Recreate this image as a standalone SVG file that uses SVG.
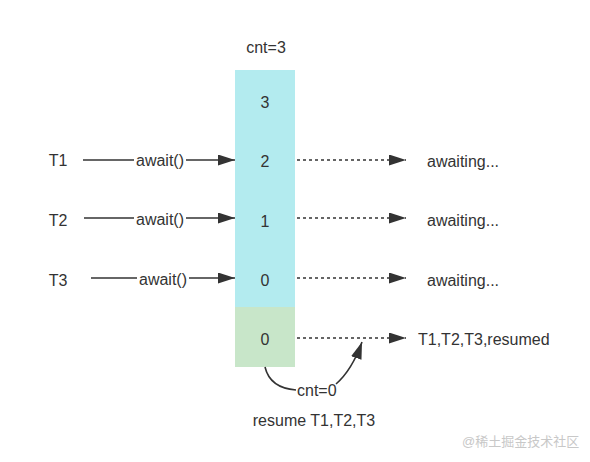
<svg xmlns="http://www.w3.org/2000/svg" width="590" height="462" viewBox="0 0 590 462">
<style>
text{font-family:"Liberation Sans",Arial,sans-serif;font-size:16px;fill:#333;dominant-baseline:central}
.c{text-anchor:middle}
.solid{stroke:#333;stroke-width:1.6;fill:none}
.dot{stroke:#333;stroke-width:1.6;fill:none;stroke-dasharray:3 3}
</style>
<defs>
<marker id="ah" markerWidth="17" markerHeight="11" refX="17" refY="5.5" orient="auto" markerUnits="userSpaceOnUse">
<path d="M0,0 L17,5.5 L0,11 Z" fill="#333"/>
</marker>
</defs>
<rect width="590" height="462" fill="#fff"/>
<text class="c" x="266" y="47">cnt=3</text>
<g id="column">
<rect x="235" y="70" width="60" height="237" fill="#b3ebef"/>
<rect x="235" y="307" width="60" height="60" fill="#c8e6c9"/>
<text class="c" x="265" y="102">3</text>
<text class="c" x="265" y="161">2</text>
<text class="c" x="265" y="221">1</text>
<text class="c" x="265" y="280">0</text>
<text class="c" x="265" y="339">0</text>
</g>
<g id="threads">
<text class="c" x="58" y="160">T1</text>
<text class="c" x="58" y="220">T2</text>
<text class="c" x="58" y="280">T3</text>
</g>
<g id="connectors">
<path class="solid" d="M83,160 H235" marker-end="url(#ah)"/>
<path class="solid" d="M84,218 H235" marker-end="url(#ah)"/>
<path class="solid" d="M91,278 H235" marker-end="url(#ah)"/>
<path class="dot" d="M297,160 H406" marker-end="url(#ah)"/>
<path class="dot" d="M297,218 H406" marker-end="url(#ah)"/>
<path class="dot" d="M297,278 H406" marker-end="url(#ah)"/>
<path class="dot" d="M297,338 H406" marker-end="url(#ah)"/>
<path class="solid" d="M265,367 Q270,388 296,390"/>
<path class="solid" d="M336,384 Q352,370 362,342" marker-end="url(#ah)"/>
</g>
<g id="labels">
<rect x="134" y="150" width="52" height="20" fill="#fff"/>
<text class="c" x="160" y="160">await()</text>
<rect x="134" y="208" width="52" height="20" fill="#fff"/>
<text class="c" x="160" y="219">await()</text>
<rect x="137" y="268" width="52" height="20" fill="#fff"/>
<text class="c" x="163" y="279">await()</text>
<text x="427" y="161">awaiting...</text>
<text x="427" y="220">awaiting...</text>
<text x="427" y="280">awaiting...</text>
<text x="418" y="339">T1,T2,T3,resumed</text>
<text x="297" y="390">cnt=0</text>
<text class="c" x="314" y="420">resume T1,T2,T3</text>
<text x="462" y="441" style="font-size:13px;fill:#c8c8c8;font-family:'Liberation Sans','Noto Sans CJK SC',sans-serif">@稀土掘金技术社区</text>
</g>
</svg>
